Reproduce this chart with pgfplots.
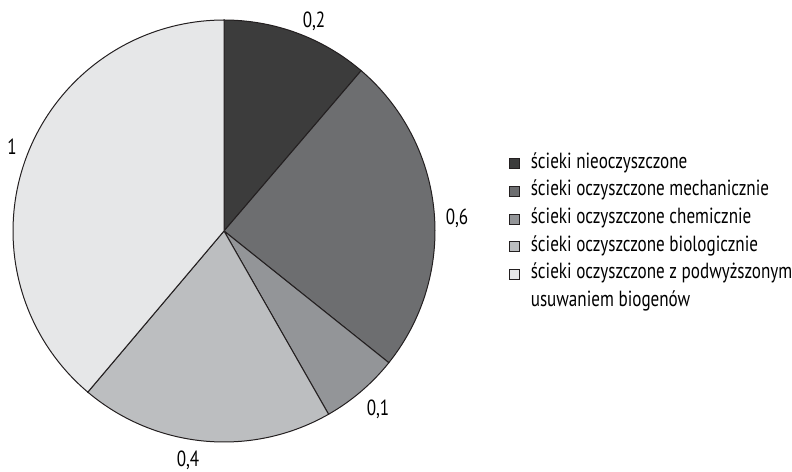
\documentclass[border=0pt]{standalone}
\usepackage{pgfplots}
\pgfplotsset{compat=1.18}
\usepackage{fontspec}
\setmainfont[FakeStretch=0.78]{PT Sans}
\definecolor{cA}{HTML}{3C3C3C}
\definecolor{cB}{HTML}{6D6E70}
\definecolor{cC}{HTML}{939598}
\definecolor{cD}{HTML}{BCBEC0}
\definecolor{cE}{HTML}{E6E7E8}
\definecolor{edge}{HTML}{231F20}
% slice values (proportions)
\def\va{0.29}
\def\vb{0.63}
\def\vc{0.155}
\def\vd{0.50}
\def\ve{1.00}
\pgfmathsetmacro\S{\va+\vb+\vc+\vd+\ve}
\pgfmathsetmacro\aA{90-360*\va/\S}
\pgfmathsetmacro\aB{\aA-360*\vb/\S}
\pgfmathsetmacro\aC{\aB-360*\vc/\S}
\pgfmathsetmacro\aD{\aC-360*\vd/\S}
\begin{document}
\begin{tikzpicture}
\begin{axis}[
  hide axis, scale only axis, width=792bp, height=472bp,
  xmin=0, xmax=792, ymin=0, ymax=472, clip=false,
  legend cell align=left,
  legend style={at={(axis cs:506,320)}, anchor=north west, draw=none, fill=none,
    font=\fontsize{22}{26}\selectfont, row sep=8.7bp, column sep=11bp,
    nodes={inner sep=0pt, text height=14bp, text depth=5bp}},
  legend image code/.code={\draw[#1,line width=0.6bp] (0bp,-5bp) rectangle (10bp,5bp);},
]
\addplot[fill=cA, draw=edge, line width=1bp, domain=\aA:90, samples=60] ({224+211*cos(x)},{241+211*sin(x)}) -- (axis cs:224,241) -- cycle;
\addlegendentry{ścieki nieoczyszczone}
\addplot[fill=cB, draw=edge, line width=1bp, domain=\aB:\aA, samples=60] ({224+211*cos(x)},{241+211*sin(x)}) -- (axis cs:224,241) -- cycle;
\addlegendentry{ścieki oczyszczone mechanicznie}
\addplot[fill=cC, draw=edge, line width=1bp, domain=\aC:\aB, samples=30] ({224+211*cos(x)},{241+211*sin(x)}) -- (axis cs:224,241) -- cycle;
\addlegendentry{ścieki oczyszczone chemicznie}
\addplot[fill=cD, draw=edge, line width=1bp, domain=\aD:\aC, samples=60] ({224+211*cos(x)},{241+211*sin(x)}) -- (axis cs:224,241) -- cycle;
\addlegendentry{ścieki oczyszczone biologicznie}
\addplot[fill=cE, draw=edge, line width=1bp, domain=-270:\aD, samples=90] ({224+211*cos(x)},{241+211*sin(x)}) -- (axis cs:224,241) -- cycle;
\addlegendentry{ścieki oczyszczone z podwyższonym}
\addlegendimage{empty legend}
\addlegendentry{usuwaniem biogenów}
\node[font=\fontsize{22}{26}\selectfont] at (axis cs:314,451) {0,2};
\node[font=\fontsize{22}{26}\selectfont] at (axis cs:457,254) {0,6};
\node[font=\fontsize{22}{26}\selectfont] at (axis cs:378,63) {0,1};
\node[font=\fontsize{22}{26}\selectfont] at (axis cs:188,12) {0,4};
\node[font=\fontsize{22}{26}\selectfont] at (axis cs:12,325) {1};
\coordinate (ll) at (rel axis cs:0,0);
\coordinate (ur) at (rel axis cs:1,1);
\end{axis}
\pgfresetboundingbox
\useasboundingbox (ll) rectangle (ur);
\end{tikzpicture}
\end{document}
